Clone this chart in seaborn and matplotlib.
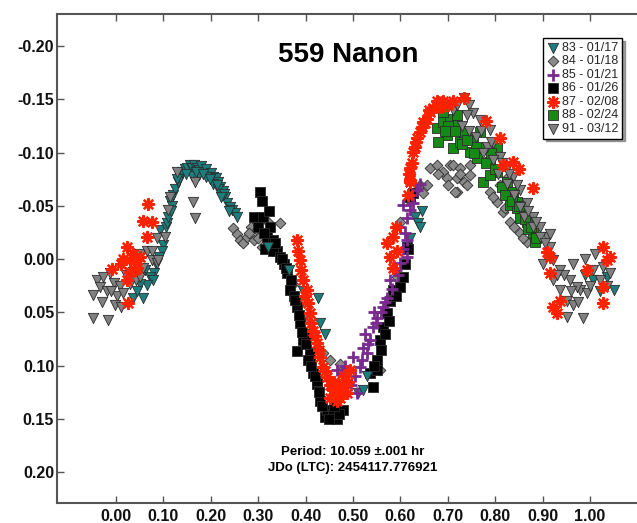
import matplotlib
matplotlib.use("Agg")
import matplotlib.pyplot as plt
import seaborn as sns

x83 = [0.100, 0.093, 0.105, 0.107, 0.110, 0.114, 0.118, 0.120, 0.125, 0.130, 0.135, 0.140, 0.145, 0.150,
       0.155, 0.160, 0.165, 0.170, 0.175, 0.180, 0.185, 0.190, 0.195, 0.200, 0.205, 0.210, 0.215, 0.220,
       0.225, 0.230, 0.235, 0.240, 0.245, 0.250, 0.255, 0.160, 0.175, 0.190, 0.205, 0.215, 0.228,
       0.148, 0.168, 0.183, 0.198, 0.212, 0.222, 0.238, 0.128, 0.115,
       0.097, 0.085, 0.080, 0.072, 0.078, 0.065, 0.057, 0.050, 0.036, 0.045, 0.062, 0.090,
       0.320, 0.365, 0.395, 0.427, 0.430, 0.440, 0.510, 0.520, 0.530,
       0.630, 0.636, 0.642, 0.645, 0.620, 1.006, 1.035, 1.050, 0.990, 1.020]
y83 = [-0.013, -0.027, -0.030, -0.034, -0.040, -0.055, -0.050, -0.060, -0.066, -0.072, -0.076, -0.082, -0.085, -0.086,
       -0.088, -0.086, -0.088, -0.086, -0.084, -0.087, -0.082, -0.085, -0.080, -0.081, -0.077, -0.076, -0.072, -0.068,
       -0.064, -0.058, -0.053, -0.049, -0.046, -0.043, -0.040, -0.078, -0.079, -0.077, -0.071, -0.066, -0.061,
       -0.080, -0.082, -0.080, -0.075, -0.070, -0.058, -0.045, -0.075, -0.045,
       -0.008, 0.005, 0.013, 0.017, 0.020, 0.024, 0.036, 0.023, 0.036, 0.030, 0.010, -0.002,
       -0.011, 0.010, 0.030, 0.036, 0.060, 0.070, 0.126, 0.123, 0.110,
       -0.040, -0.034, -0.030, -0.045, -0.020, 0.020, 0.017, 0.029, 0.015, 0.030]

x84 = [0.247, 0.255, 0.262, 0.268, 0.276, 0.285, 0.290, 0.297, 0.308, 0.320, 0.346, 0.373, 0.390, 0.437,
       0.451, 0.473, 0.557, 0.593, 0.600, 0.620, 0.635, 0.648, 0.641, 0.656, 0.662, 0.677, 0.690, 0.698,
       0.705, 0.711, 0.719, 0.719, 0.726, 0.733, 0.747, 0.747, 0.789, 0.804, 0.810, 0.816, 0.825, 0.831,
       0.852, 0.867, 0.400, 0.415, 0.715,
       0.680, 0.700, 0.725, 0.740, 0.795, 0.820, 0.840, 0.858, 0.280, 0.300]
y84 = [-0.029, -0.024, -0.018, -0.015, -0.021, -0.030, -0.018, -0.027, -0.011, -0.035, -0.034, 0.023, 0.040, 0.088,
       0.095, 0.098, 0.104, 0.017, -0.035, -0.055, -0.065, -0.062, -0.070, -0.070, -0.086, -0.088, -0.082, -0.076,
       -0.088, -0.088, -0.076, -0.063, -0.086, -0.072, -0.088, -0.079, -0.063, -0.054, -0.070, -0.044, -0.076, -0.035,
       -0.025, -0.016, 0.055, 0.070, -0.063,
       -0.080, -0.070, -0.080, -0.070, -0.058, -0.048, -0.030, -0.020, -0.025, -0.020]

x85 = [0.466, 0.479, 0.487, 0.500, 0.508, 0.515, 0.521, 0.529, 0.536, 0.542, 0.551, 0.563, 0.572, 0.578,
       0.590, 0.599, 0.606, 0.614, 0.614, 0.614, 0.620, 0.627, 0.641, 0.606, 0.600, 0.525, 0.545, 0.495, 0.470,
       0.483, 0.505, 0.518, 0.532, 0.548, 0.558, 0.568, 0.583, 0.595, 0.610, 0.625, 0.635]
y85 = [0.104, 0.107, 0.114, 0.092, 0.126, 0.101, 0.083, 0.088, 0.076, 0.064, 0.055, 0.045, 0.036, 0.020,
       0.010, 0.004, -0.010, -0.002, -0.018, -0.039, -0.046, -0.053, -0.071, -0.051, -0.030, 0.070, 0.050, 0.118, 0.120,
       0.100, 0.110, 0.095, 0.080, 0.060, 0.050, 0.040, 0.028, 0.015, -0.025, -0.060, -0.065]

x86 = [0.304, 0.308, 0.290, 0.310, 0.319, 0.325, 0.331, 0.340, 0.300, 0.315, 0.331, 0.346, 0.361, 0.367,
       0.382, 0.388, 0.395, 0.409, 0.416, 0.424, 0.430, 0.441, 0.445, 0.458, 0.466, 0.479, 0.424, 0.409,
       0.382, 0.551, 0.557, 0.563, 0.572, 0.578, 0.584, 0.599, 0.606, 0.614, 0.620, 0.627, 0.616, 0.536,
       0.542, 0.551, 0.355, 0.375, 0.400,
       0.335, 0.350, 0.358, 0.370, 0.378, 0.385, 0.392, 0.400, 0.405, 0.412, 0.420, 0.428, 0.435, 0.450,
       0.470, 0.460, 0.545, 0.560, 0.567, 0.575, 0.590, 0.610, 0.323, 0.312]
y86 = [-0.063, -0.055, -0.040, -0.040, -0.021, -0.030, -0.018, -0.008, -0.030, -0.010, -0.008, -0.002, 0.013, 0.029,
       0.045, 0.060, 0.076, 0.092, 0.107, 0.117, 0.133, 0.148, 0.142, 0.145, 0.150, 0.142, 0.114, 0.088,
       0.086, 0.095, 0.076, 0.064, 0.051, 0.039, 0.029, 0.026, 0.017, -0.011, -0.058, -0.062, -0.010, 0.107,
       0.120, 0.104, 0.005, 0.035, 0.070,
       -0.015, 0.000, 0.008, 0.020, 0.038, 0.052, 0.068, 0.080, 0.095, 0.100, 0.110, 0.125, 0.138, 0.150,
       0.145, 0.138, 0.100, 0.085, 0.070, 0.058, 0.035, 0.005, -0.045, -0.025]

x87 = [0.068, 0.057, 0.076, 0.065, 0.023, 0.030, 0.044, 0.036, -0.008, 0.023, 0.025, 0.050, 0.040, 0.010,
       0.015, 0.030, 0.045,
       0.382, 0.384, 0.388, 0.395, 0.403, 0.405, 0.409, 0.416, 0.424, 0.430, 0.437, 0.445, 0.458, 0.473,
       0.487, 0.479, 0.494, 0.451, 0.466, 0.460, 0.480,
       0.390, 0.398, 0.412, 0.420, 0.428, 0.440, 0.452, 0.465, 0.470, 0.490,
       0.572, 0.578, 0.584, 0.593, 0.584, 0.590, 0.620, 0.620, 0.627, 0.635, 0.648, 0.662, 0.677, 0.690,
       0.733, 0.620, 0.641, 0.656, 0.669, 0.625, 0.630, 0.700,
       0.615, 0.618, 0.632, 0.645, 0.652, 0.660, 0.685, 0.710,
       0.810, 0.838, 0.816, 0.880, 0.909, 0.916, 0.916, 0.922, 0.937, 0.930, 0.994, 1.027, 1.035, 1.042,
       1.027, 1.027, 0.850, 0.780]
y87 = [-0.052, -0.036, -0.035, -0.021, -0.011, 0.001, 0.001, -0.005, 0.009, 0.020, 0.041, -0.002, 0.010, 0.005,
       0.000, 0.012, 0.008,
       -0.018, -0.008, 0.001, 0.020, 0.029, 0.041, 0.051, 0.067, 0.079, 0.092, 0.101, 0.111, 0.123, 0.130,
       0.126, 0.120, 0.104, 0.130, 0.133, 0.115, 0.110,
       0.010, 0.035, 0.060, 0.072, 0.085, 0.105, 0.118, 0.125, 0.118, 0.115,
       -0.015, -0.002, 0.008, -0.008, -0.021, -0.030, -0.074, -0.086, -0.101, -0.114, -0.129, -0.138, -0.148, -0.148,
       -0.151, -0.072, -0.119, -0.132, -0.142, -0.090, -0.105, -0.145,
       -0.060, -0.080, -0.110, -0.124, -0.128, -0.140, -0.143, -0.148,
       -0.114, -0.091, -0.088, -0.067, -0.007, -0.002, 0.013, 0.045, 0.039, 0.051, 0.010, -0.011, 0.001, -0.002,
       0.026, 0.041, -0.085, -0.130]

x88 = [0.677, 0.690, 0.705, 0.719, 0.733, 0.698, 0.680, 0.711, 0.747, 0.762, 0.774, 0.789, 0.804, 0.804,
       0.774, 0.825, 0.838, 0.846, 0.859, 0.867, 0.880, 0.884, 0.831, 0.852, 0.753, 0.768, 0.789,
       0.690, 0.700, 0.725, 0.760, 0.790, 0.815, 0.845, 0.870, 0.885,
       0.695, 0.715, 0.730, 0.740, 0.755, 0.780, 0.800, 0.820, 0.835, 0.850, 0.862, 0.875, 0.720]
y88 = [-0.123, -0.129, -0.132, -0.126, -0.119, -0.117, -0.110, -0.104, -0.101, -0.095, -0.104, -0.091, -0.104, -0.082,
       -0.072, -0.072, -0.063, -0.054, -0.044, -0.035, -0.025, -0.016, -0.051, -0.039, -0.114, -0.119, -0.079,
       -0.138, -0.125, -0.110, -0.105, -0.100, -0.068, -0.048, -0.028, -0.020,
       -0.120, -0.120, -0.108, -0.112, -0.100, -0.090, -0.085, -0.060, -0.055, -0.050, -0.038, -0.030, -0.135]

x91 = [-0.048, -0.017, -0.048, -0.040, -0.034, -0.027, -0.020, -0.013, -0.005, 0.002, -0.002, 0.008, 0.015, 0.022,
       0.030, 0.036, 0.043, 0.050, 0.050, 0.057, 0.065, 0.076, 0.075, 0.086, 0.086, 0.089, 0.103, 0.110,
       0.114, 0.128, 0.163, 0.167, 0.167, -0.030, -0.010, 0.010,
       0.711, 0.733, 0.745, 0.753, 0.768, 0.789, 0.796, 0.810, 0.825, 0.838, 0.852, 0.867, 0.880, 0.895,
       0.909, 0.916, 0.922, 0.937, 0.958, 0.979, 0.994, 0.951, 0.964, 0.985, 0.951, 1.006, 1.027, 1.042,
       0.922, 0.937, 0.972, 1.021, 0.760, 0.782, 0.796, 0.825, 0.852, 0.880, 0.895, 0.916, 0.730, 0.745,
       0.775, 0.805, 0.840, 0.860, 0.900, 0.945, 0.965, 0.990, 1.010,
       0.720, 0.740, 0.770, 0.790, 0.815, 0.830, 0.845, 0.870, 0.885, 0.905, 0.930, 0.960, 0.975, 1.000, 1.035]
y91 = [0.055, 0.057, 0.034, 0.020, 0.026, 0.017, 0.030, 0.013, 0.022, 0.035, 0.043, 0.025, 0.032, 0.015,
       0.023, 0.012, 0.020, 0.017, -0.005, 0.008, -0.008, -0.008, 0.001, 0.004, -0.020, 0.001, -0.021, -0.046,
       -0.058, -0.082, -0.054, -0.039, -0.072, 0.040, 0.030, 0.045,
       -0.140, -0.151, -0.145, -0.137, -0.131, -0.121, -0.109, -0.096, -0.086, -0.077, -0.065, -0.053, -0.040, -0.030,
       -0.021, -0.011, 0.001, 0.010, 0.020, 0.029, 0.032, 0.039, 0.043, 0.055, 0.054, 0.010, 0.007, 0.013,
       0.020, 0.029, 0.026, 0.020, -0.115, -0.105, -0.093, -0.071, -0.049, -0.030, -0.021, -0.024, -0.125, -0.120,
       -0.100, -0.080, -0.060, -0.040, 0.005, 0.015, 0.005, 0.000, -0.005,
       -0.145, -0.135, -0.120, -0.110, -0.090, -0.080, -0.070, -0.045, -0.035, -0.015, 0.015, 0.030, 0.040, 0.025, 0.025]

xticks = [0.0, 0.1, 0.2, 0.3, 0.4, 0.5, 0.6, 0.7, 0.8, 0.9, 1.0]
xtick_labels = ["0.00", "0.10", "0.20", "0.30", "0.40", "0.50", "0.60", "0.70", "0.80", "0.90", "1.00"]
yticks = [-0.20, -0.15, -0.10, -0.05, 0.0, 0.05, 0.10, 0.15, 0.20]
ytick_labels = ["-0.20", "-0.15", "-0.10", "-0.05", "0.00", "0.05", "0.10", "0.15", "0.20"]

sns.set_style("ticks")
plt.rcParams['font.family'] = ['Liberation Sans', 'DejaVu Sans']

fig = plt.figure(figsize=(6.37, 5.23), dpi=100)
ax = fig.add_axes([0.0895, 0.038, 0.9105, 0.935])

edge = "#2b2b2b"
# (x, y, label, colour, marker, size, linewidth, zorder)
series = [
    (x83, y83, "83 - 01/17", "#1c7d7d", "v", 55, 0.6, 3),
    (x84, y84, "84 - 01/18", "#8a8a8a", "D", 30, 0.6, 2),
    (x85, y85, "85 - 01/21", "#7a2a8e", "+", 70, 2.0, 4),
    (x86, y86, "86 - 01/26", "#000000", "s", 42, 0.6, 2),
    (x87, y87, "87 - 02/08", "#ff2200", (8, 2, 0), 62, 1.7, 5),
    (x88, y88, "88 - 02/24", "#168a16", "s", 42, 0.6, 3),
    (x91, y91, "91 - 03/12", "#808080", "v", 55, 0.6, 4),
]
for xs, ys, lab, col, mk, sz, lw, z in series:
    if mk in ("+", (8, 2, 0)):
        sns.scatterplot(x=xs, y=ys, ax=ax, color=col, marker=mk, s=sz, linewidth=lw,
                        label=lab, zorder=z)
    else:
        sns.scatterplot(x=xs, y=ys, ax=ax, color=col, marker=mk, s=sz, linewidth=lw,
                        edgecolor=edge, label=lab, zorder=z)

ax.set_xlim(-0.1245, 1.099)
ax.set_ylim(0.229, -0.230)
ax.set_xticks(xticks)
ax.set_xticklabels(xtick_labels)
ax.set_yticks(yticks)
ax.set_yticklabels(ytick_labels)
ax.tick_params(axis="both", direction="in", length=5, width=1, color="#555555",
               labelsize=11.5, top=True, right=False)
ax.tick_params(axis="y", pad=2)
ax.tick_params(axis="x", pad=4)
for lbl in ax.get_xticklabels() + ax.get_yticklabels():
    lbl.set_fontweight("bold")
    lbl.set_color("#111111")
for side in ["left", "top", "bottom"]:
    ax.spines[side].set_color("#555555")
    ax.spines[side].set_linewidth(1.5)
ax.spines["right"].set_visible(False)
ax.set_xlabel("")
ax.set_ylabel("")

ax.text(0.502, 0.916, "559 Nanon", transform=ax.transAxes, ha="center", va="center",
        fontsize=20, fontweight="bold", color="black")
ax.text(0.51, 0.104, "Period: 10.059 \u00b1.001 hr", transform=ax.transAxes, ha="center",
        va="center", fontsize=9.5, fontweight="bold", color="black")
ax.text(0.51, 0.071, "JDo (LTC): 2454117.776921", transform=ax.transAxes, ha="center",
        va="center", fontsize=9.5, fontweight="bold", color="black")

leg = ax.legend(loc="upper right", bbox_to_anchor=(0.974, 0.951), frameon=True, fancybox=False,
                shadow=True, edgecolor="black", fontsize=9, labelspacing=0.12, handletextpad=0.2,
                borderpad=0.3, handlelength=1.0, borderaxespad=0)
leg.get_frame().set_linewidth(1.0)
leg.get_frame().set_alpha(1)

plt.savefig("out.png", dpi=100)
